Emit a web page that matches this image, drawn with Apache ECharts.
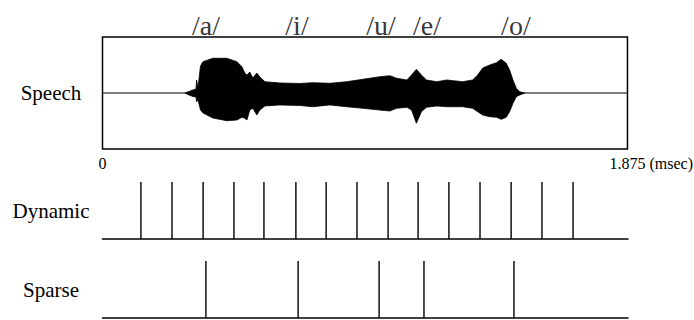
<!DOCTYPE html>
<html>
<head>
<meta charset="utf-8">
<script src="https://cdn.jsdelivr.net/npm/echarts@6/dist/echarts.min.js"></script>
<style>html,body{margin:0;padding:0;background:#fff;}#c{width:694px;height:320px;}</style>
</head>
<body>
<div id="c"></div>
<script>
// ---- data ----
const timeMin = 0;
const timeMax = 1.875;
const rowLabels = ['Speech', 'Dynamic', 'Sparse'];
const axisEndLabels = ['0', '1.875'];
const unitLabel = '(msec)';
const vowelLabels = ['/a/', '/i/', '/u/', '/e/', '/o/'];
const vowelTimes = [0.369, 0.694, 0.994, 1.158, 1.475];
// speech waveform envelope (time, upper, lower)
const envTime = [0.294, 0.309, 0.323, 0.334, 0.336, 0.341, 0.350, 0.359, 0.394, 0.444, 0.480, 0.498, 0.508, 0.516, 0.526, 0.537, 0.551, 0.562, 0.580, 0.633, 0.705, 0.751, 0.812, 0.872, 0.930, 0.990, 1.026, 1.051, 1.087, 1.104, 1.121, 1.139, 1.157, 1.194, 1.229, 1.286, 1.322, 1.340, 1.358, 1.383, 1.407, 1.424, 1.442, 1.454, 1.466, 1.478, 1.490, 1.508];
const envUpper = [0, 0.027, 0.054, 0.071, 0.232, 0.089, 0.482, 0.559, 0.620, 0.620, 0.559, 0.470, 0.357, 0.321, 0.375, 0.268, 0.357, 0.286, 0.202, 0.179, 0.170, 0.184, 0.173, 0.202, 0.245, 0.291, 0.309, 0.263, 0.232, 0.321, 0.423, 0.321, 0.232, 0.202, 0.232, 0.202, 0.232, 0.321, 0.446, 0.500, 0.541, 0.602, 0.530, 0.411, 0.232, 0.084, 0.023, 0];
const envLower = [0, -0.036, -0.063, -0.071, -0.155, -0.125, -0.304, -0.357, -0.446, -0.495, -0.482, -0.434, -0.452, -0.482, -0.304, -0.273, -0.393, -0.304, -0.232, -0.214, -0.223, -0.245, -0.214, -0.245, -0.273, -0.304, -0.321, -0.273, -0.255, -0.304, -0.541, -0.334, -0.255, -0.232, -0.245, -0.245, -0.273, -0.334, -0.393, -0.423, -0.434, -0.470, -0.434, -0.334, -0.184, -0.066, -0.036, 0];
const dynamicPulses = [0.137, 0.248, 0.359, 0.469, 0.576, 0.690, 0.798, 0.908, 1.019, 1.126, 1.236, 1.347, 1.458, 1.568, 1.679];
const sparsePulses = [0.369, 0.698, 0.987, 1.147, 1.468];

// ---- chart ----
const FONT = 'Liberation Serif';
const chart = echarts.init(document.getElementById('c'), null, {renderer: 'svg'});
const L = 102.5, R = 66;
const grids = [
  {left: L, right: R, top: 37, height: 112, show: true, borderColor: '#000', borderWidth: 1.5, backgroundColor: 'transparent'},
  {left: L, right: R, top: 182, height: 57},
  {left: L, right: R, top: 261, height: 57},
  {left: L, right: R, top: 5, height: 40}
];
const hiddenX = (gi, line) => ({
  type: 'value', gridIndex: gi, min: timeMin, max: timeMax,
  axisLine: {show: line, onZero: false, lineStyle: {color: '#000', width: 1.5}},
  axisTick: {show: false}, axisLabel: {show: false}, splitLine: {show: false}
});
const rowY = (gi, min, max, name) => ({
  type: 'value', gridIndex: gi, min: min, max: max,
  axisLine: {show: false}, axisTick: {show: false}, axisLabel: {show: false}, splitLine: {show: false},
  name: name, nameLocation: 'middle', nameRotate: 0, nameGap: 51.5,
  nameTextStyle: {fontFamily: FONT, fontSize: 21, color: '#000', align: 'center', verticalAlign: 'middle'}
});
const option = {
  animation: false,
  backgroundColor: '#fff',
  textStyle: {fontFamily: FONT},
  grid: grids,
  xAxis: [
    {
      type: 'value', gridIndex: 0, min: timeMin, max: timeMax, interval: timeMax,
      axisLine: {show: false, onZero: false}, axisTick: {show: false}, splitLine: {show: false},
      axisLabel: {show: true, margin: 6, showMinLabel: true, showMaxLabel: true,
        fontFamily: FONT, fontSize: 16, color: '#000',
        formatter: v => (v === timeMin ? axisEndLabels[0] : axisEndLabels[1])},
      name: unitLabel, nameLocation: 'end', nameGap: 22,
      nameTextStyle: {fontFamily: FONT, fontSize: 16, color: '#000', verticalAlign: 'top', padding: [6, 0, 0, 0]}
    },
    hiddenX(1, true),
    hiddenX(2, true),
    hiddenX(3, false)
  ],
  yAxis: [
    rowY(0, -1, 1, rowLabels[0]),
    rowY(1, 0, 1, rowLabels[1]),
    rowY(2, 0, 1, rowLabels[2]),
    {type: 'value', gridIndex: 3, min: 0, max: 1, show: false}
  ],
  series: [
    {
      type: 'line', xAxisIndex: 0, yAxisIndex: 0, symbol: 'none',
      data: [[timeMin, 0], [timeMax, 0]],
      lineStyle: {color: '#000', width: 1.2}
    },
    {
      type: 'line', xAxisIndex: 0, yAxisIndex: 0, symbol: 'none',
      data: envTime.map((t, i) => [t, envUpper[i]]),
      lineStyle: {color: '#000', width: 0.8}, areaStyle: {color: '#000', opacity: 1}
    },
    {
      type: 'line', xAxisIndex: 0, yAxisIndex: 0, symbol: 'none',
      data: envTime.map((t, i) => [t, envLower[i]]),
      lineStyle: {color: '#000', width: 0.8}, areaStyle: {color: '#000', opacity: 1}
    },
    {
      type: 'bar', xAxisIndex: 1, yAxisIndex: 1, barWidth: 1.5,
      data: dynamicPulses.map(t => [t, 1]),
      itemStyle: {color: '#111'}
    },
    {
      type: 'bar', xAxisIndex: 2, yAxisIndex: 2, barWidth: 1.5,
      data: sparsePulses.map(t => [t, 1]),
      itemStyle: {color: '#111'}
    },
    {
      type: 'scatter', xAxisIndex: 3, yAxisIndex: 3, symbolSize: 0,
      data: vowelTimes.map((t, i) => ({value: [t, 0.5], name: vowelLabels[i]})),
      label: {show: true, position: 'inside', formatter: p => p.name,
        fontFamily: FONT, fontSize: 28, color: '#000'}
    }
  ]
};
chart.setOption(option);
</script>
</body>
</html>
